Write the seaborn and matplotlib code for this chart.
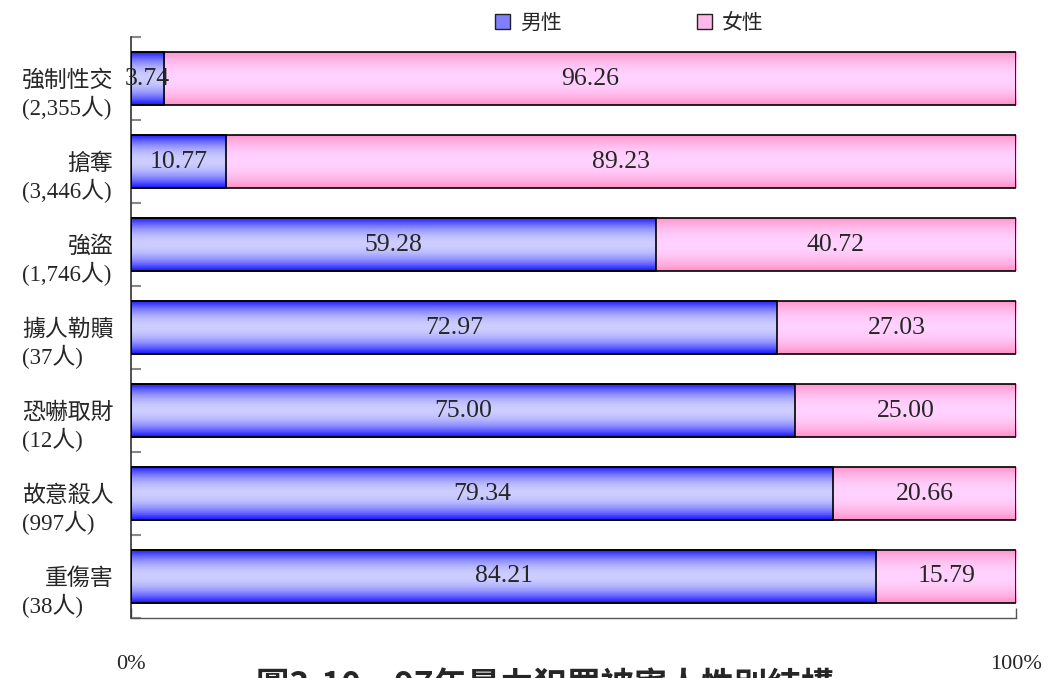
import numpy as np
import pandas as pd
import matplotlib
matplotlib.use('Agg')
import matplotlib.pyplot as plt
from matplotlib.patches import Patch
import seaborn as sns

categories = ['強制性交', '搶奪', '強盜', '擄人勒贖', '恐嚇取財', '故意殺人', '重傷害']
counts = ['(2,355人)', '(3,446人)', '(1,746人)', '(37人)', '(12人)', '(997人)', '(38人)']
male = [3.74, 10.77, 59.28, 72.97, 75.00, 79.34, 84.21]
female = [96.26, 89.23, 40.72, 27.03, 25.00, 20.66, 15.79]
series = ['男性', '女性']
title = '圖3-10　97年暴力犯罪被害人性別結構'

sns.set_theme(style='white')
plt.rcParams['font.family'] = ['Noto Sans CJK TC', 'DejaVu Sans']
serif = ['Liberation Serif', 'Noto Sans CJK TC']

df = pd.DataFrame({'cat': categories, 'male': male, 'female': female})
df['total'] = df['male'] + df['female']

fig = plt.figure(figsize=(10.49, 6.78), dpi=100)
ax = fig.add_axes([0.1249, 0.0885, 0.8437, 0.8569])

sns.barplot(data=df, x='total', y='cat', orient='h', color='#ffccff', width=0.65,
            edgecolor='black', linewidth=1.2, ax=ax)
sns.barplot(data=df, x='male', y='cat', orient='h', color='#9999ff', width=0.65,
            edgecolor='black', linewidth=1.2, ax=ax)

# vertical gradient fill: dark at edges, light in the middle
t = np.linspace(0, 1, 64)
f = 1 - (np.abs(t - 0.5) / 0.5) ** 2.0
blue_edge, blue_mid = np.array([20, 20, 255]), np.array([205, 205, 255])
pink_edge, pink_mid = np.array([255, 145, 200]), np.array([255, 210, 255])
n = len(categories)
for k, p in enumerate(ax.patches):
    if k < n:
        c0, c1 = pink_edge, pink_mid
    else:
        c0, c1 = blue_edge, blue_mid
    grad = (c0[None, :] + (c1 - c0)[None, :] * f[:, None]) / 255.0
    x0, y0 = p.get_x(), p.get_y()
    w, h = p.get_width(), p.get_height()
    im = ax.imshow(grad[:, None, :], extent=[x0, x0 + w, y0 + h, y0], aspect='auto',
                   interpolation='bilinear', zorder=2)
    im.set_clip_path(p)
    p.set_facecolor('none')
    p.set_zorder(3)

ax.set_xlim(0, 100)
ax.set_ylim(n - 0.5, -0.5)

# value labels
for i in range(n):
    ax.text(male[i] / 2, i, f'{male[i]:.2f}', ha='center', va='center',
            fontsize=18.5, family=serif, zorder=5)
    ax.text(male[i] + female[i] / 2, i, f'{female[i]:.2f}', ha='center', va='center',
            fontsize=18.5, family=serif, zorder=5)

# category labels (two lines)
tr = matplotlib.transforms.blended_transform_factory(ax.transAxes, ax.transData)
for i in range(n):
    ax.text(-0.02, i + 0.02, categories[i], ha='right', va='center', fontsize=16.5,
            transform=tr)
    ax.text(-0.123, i + 0.36, counts[i], ha='left', va='center', fontsize=16.5,
            family=serif, transform=tr)

ax.set_xlabel('')
ax.set_ylabel('')
ax.set_yticks([])
ax.set_yticks(np.arange(-0.5, n, 1.0), minor=True)
ax.tick_params(axis='y', which='minor', direction='in', length=7, width=1.5,
               color='#888888', left=True)
ax.set_xticks([0, 100])
ax.set_xticklabels(['0%', '100%'], fontsize=16, family=serif)
ax.tick_params(axis='x', direction='in', length=7, width=1, color='#555555',
               pad=27, bottom=True)
for s in ['top', 'right']:
    ax.spines[s].set_visible(False)
ax.spines['left'].set_color('#333333')
ax.spines['left'].set_linewidth(1.2)
ax.spines['bottom'].set_color('#555555')
ax.spines['bottom'].set_linewidth(1)

handles = [Patch(facecolor='#8080ff', edgecolor='#222222', label=series[0]),
           Patch(facecolor='#ffb8ea', edgecolor='#222222', label=series[1])]
fig.legend(handles=handles, loc='upper center', bbox_to_anchor=(0.6, 1.01), ncol=2,
           frameon=False, fontsize=15, handlelength=0.7, handleheight=0.7,
           handletextpad=0.5, columnspacing=6.5)

fig.text(0.52, 0.011, title, ha='center', va='top', fontsize=24, fontweight='bold')

fig.savefig('out.png', dpi=100)
